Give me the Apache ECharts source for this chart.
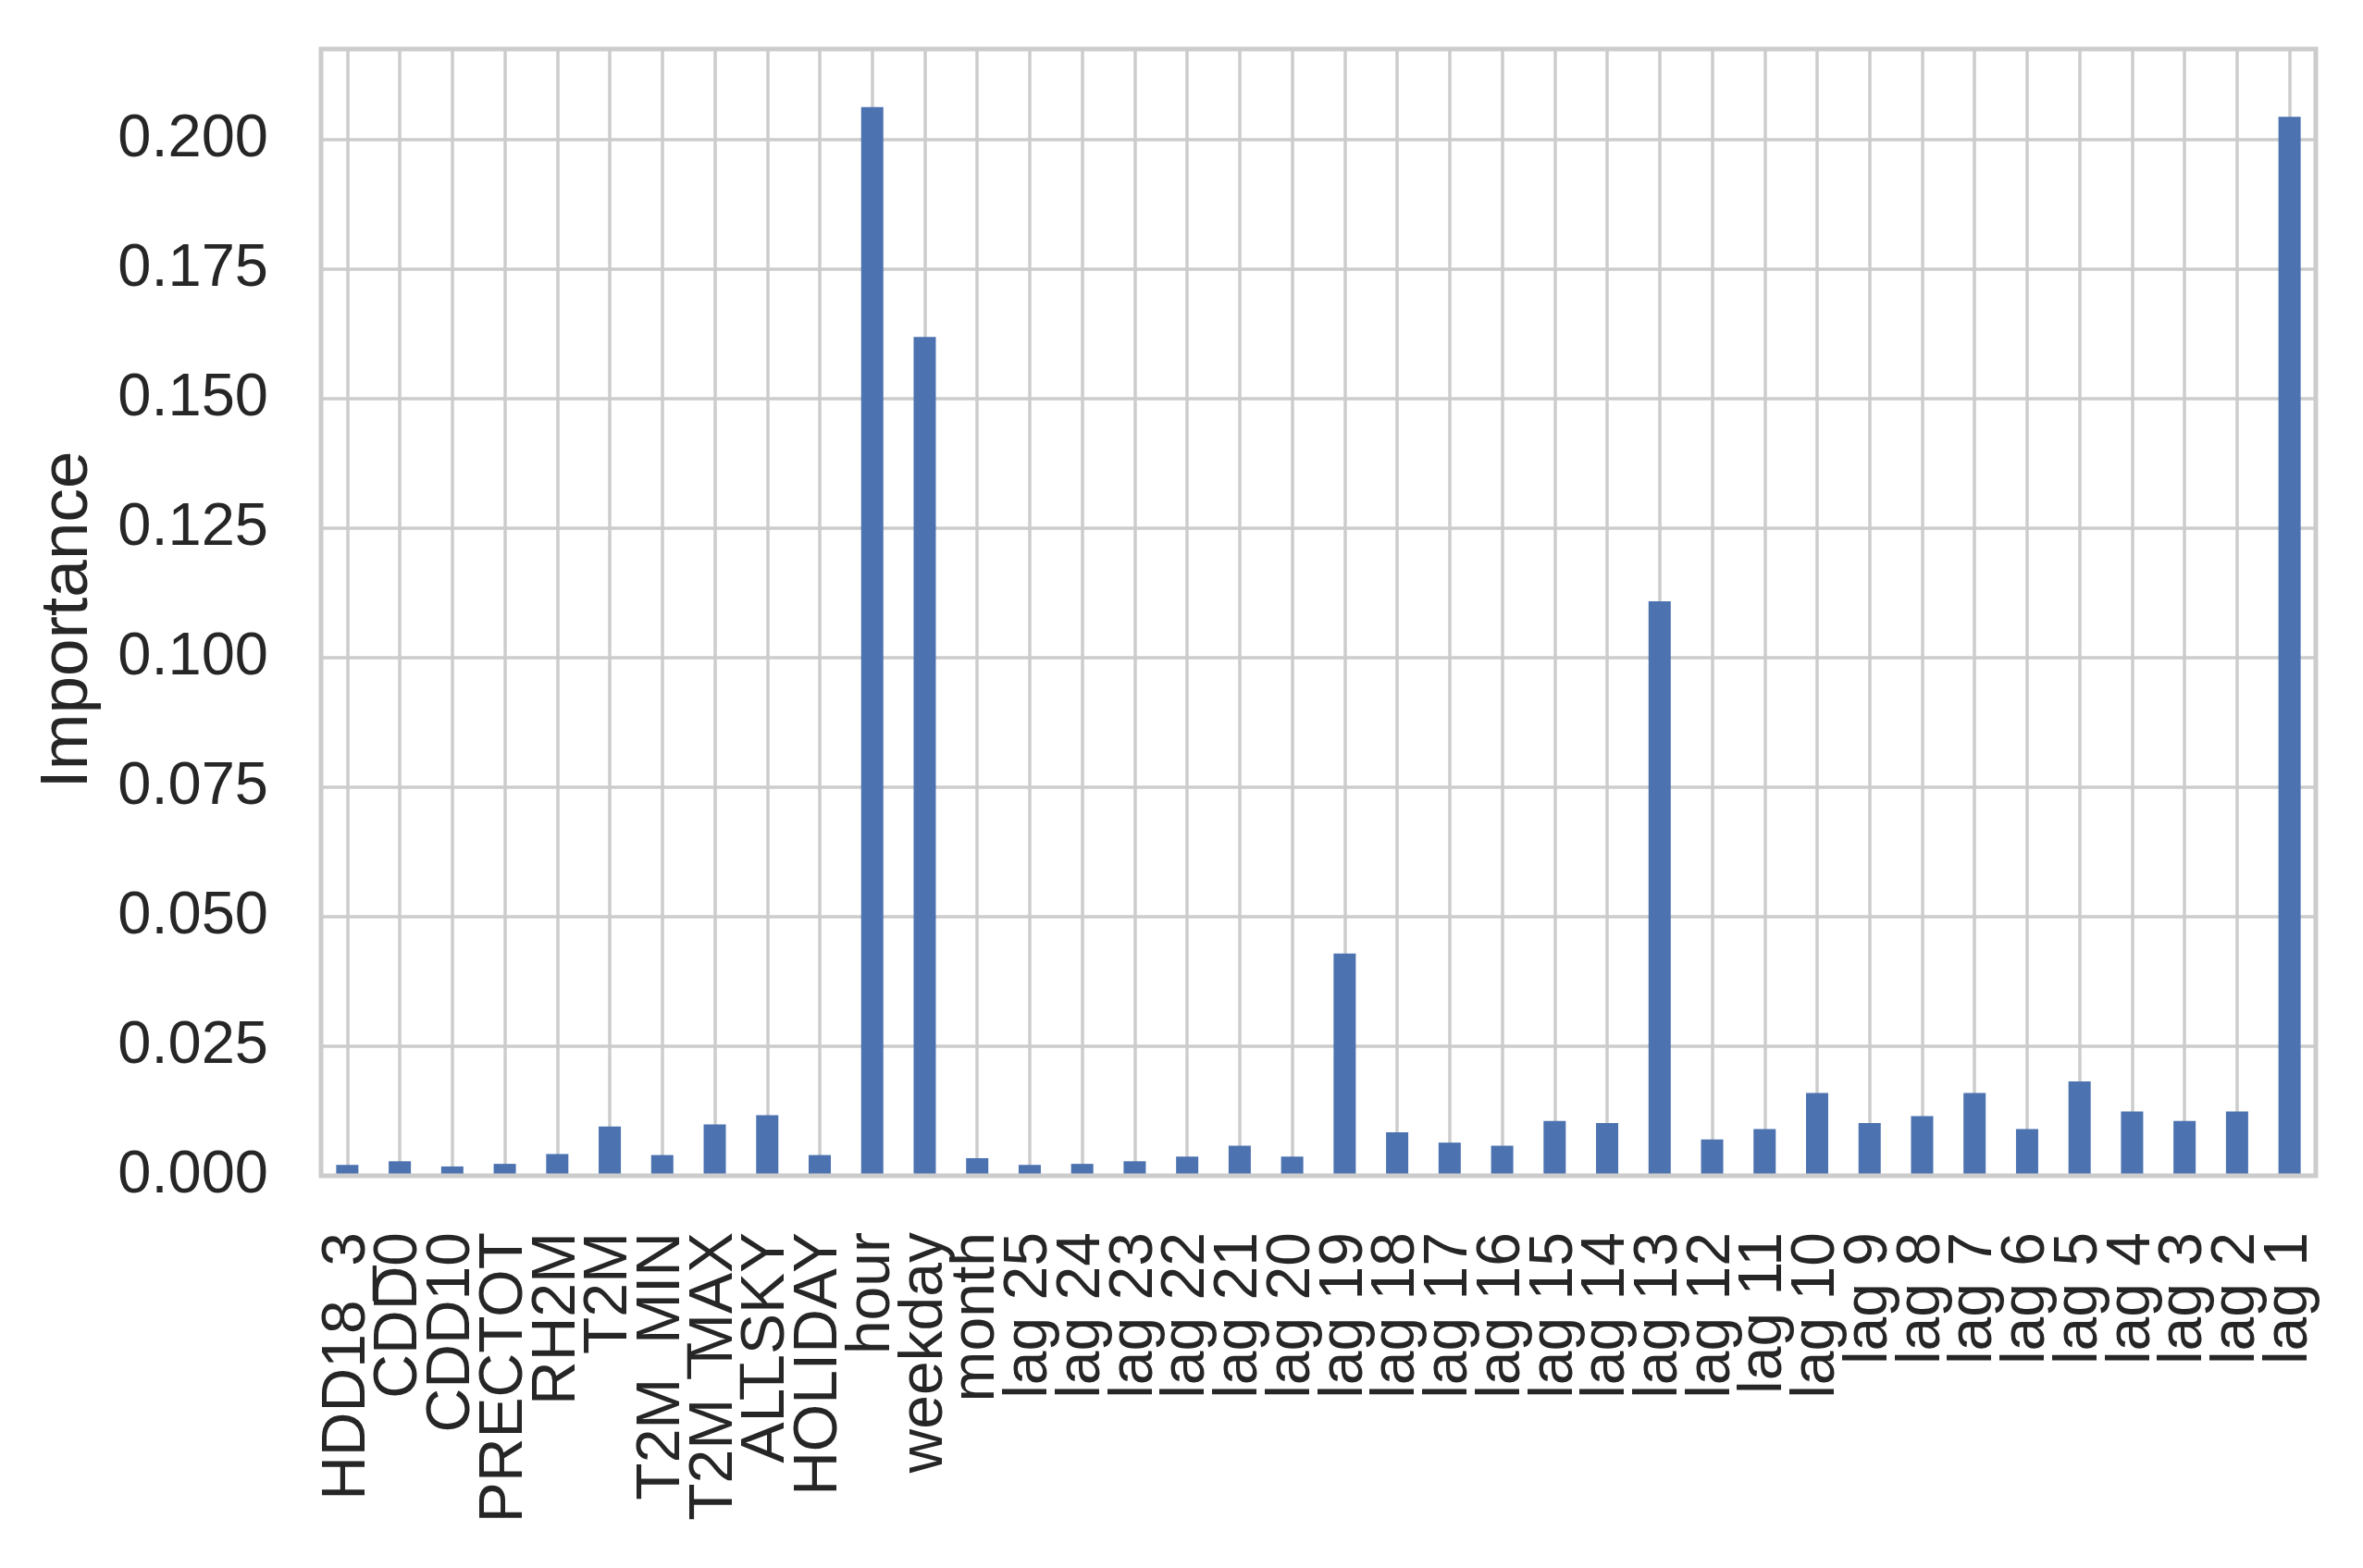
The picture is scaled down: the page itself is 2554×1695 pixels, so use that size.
<!DOCTYPE html>
<html>
<head>
<meta charset="utf-8">
<script src="https://cdn.jsdelivr.net/npm/echarts@6/dist/echarts.min.js"></script>
<style>
html,body{margin:0;padding:0;background:#fff;}
#chart{width:2554px;height:1695px;}
</style>
</head>
<body>
<div id="chart"></div>
<script>
const categories = ['HDD18_3','CDD0','CDD10','PRECTOT','RH2M','T2M','T2M_MIN','T2M_MAX','ALLSKY','HOLIDAY',
  'hour','weekday','month',
  'lag 25','lag 24','lag 23','lag 22','lag 21','lag 20','lag 19','lag 18','lag 17','lag 16','lag 15','lag 14',
  'lag 13','lag 12','lag 11','lag 10','lag 9','lag 8','lag 7','lag 6','lag 5','lag 4','lag 3','lag 2','lag 1'];
const importance = [0.0021,0.0028,0.0018,0.0023,0.0042,0.0095,0.0040,0.0099,0.0117,0.0040,
  0.2063,0.1619,0.0034,
  0.0021,0.0023,0.0028,0.0037,0.0058,0.0037,0.0429,0.0084,0.0064,0.0058,0.0106,0.0102,
  0.1109,0.0070,0.0090,0.0160,0.0102,0.0115,0.0160,0.0090,0.0182,0.0124,0.0106,0.0124,0.2044];
const yTicks = {min: 0, max: 0.2175, interval: 0.025};
const yTitle = 'Importance';

const chart = echarts.init(document.getElementById('chart'), null, {renderer: 'canvas'});
const FONT = "'Liberation Sans', Arial, sans-serif";
chart.setOption({
  backgroundColor: '#ffffff',
  animation: false,
  grid: {
    left: 347, right: 51, top: 53, bottom: 424,
    show: true, z: 3,
    backgroundColor: 'transparent',
    borderColor: '#cccccc', borderWidth: 5
  },
  xAxis: {
    type: 'category',
    data: categories,
    boundaryGap: true,
    axisLine: {show: false},
    axisTick: {show: false},
    axisLabel: {
      interval: 0, rotate: 90, margin: 61,
      fontFamily: FONT, fontSize: 66, color: '#262626'
    },
    splitLine: {show: true, alignWithLabel: true, interval: 0, lineStyle: {color: '#cccccc', width: 3.5}}
  },
  yAxis: {
    type: 'value',
    min: yTicks.min, max: yTicks.max, interval: yTicks.interval,
    name: yTitle, nameLocation: 'middle', nameRotate: 90, nameGap: 237,
    nameTextStyle: {fontFamily: FONT, fontSize: 73, color: '#262626', padding: [0, 16, 0, 0]},
    axisLine: {show: false},
    axisTick: {show: false},
    axisLabel: {
      margin: 57, showMaxLabel: false, padding: [8, 0, 0, 0],
      fontFamily: FONT, fontSize: 65, color: '#262626',
      formatter: v => v.toFixed(3)
    },
    splitLine: {show: true, lineStyle: {color: '#cccccc', width: 3.5}}
  },
  series: [{
    type: 'bar',
    data: importance,
    barWidth: 24,
    itemStyle: {color: '#4C72B0'}
  }]
});
</script>
</body>
</html>
